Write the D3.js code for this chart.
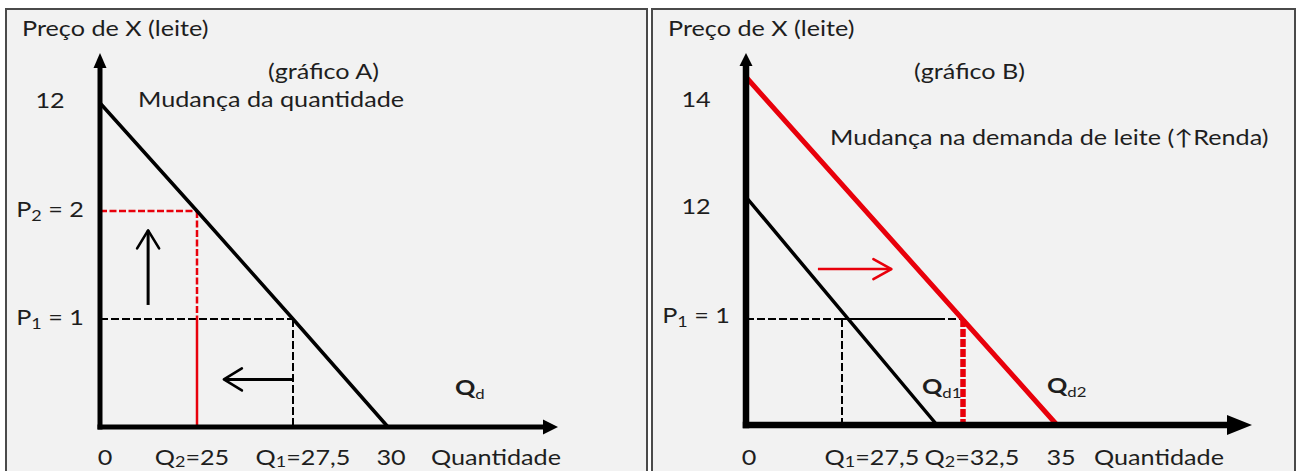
<!DOCTYPE html>
<html>
<head>
<meta charset="utf-8">
<script src="https://cdn.jsdelivr.net/npm/d3@7"></script>
<style>
  body { margin: 0; background: #fff; }
  text { font-family: Lato, "Open Sans", sans-serif; }
</style>
</head>
<body>
<svg id="chart" width="1297" height="471"></svg>
<script>
// the source picture is stretched sideways, so text gets the same squeeze
const SX = 1.2
const FONT = 21
const RED = "#e8000b"
const INK = "#1e1e1e"

// gráfico A - mudança da quantidade
const qtyTicksA = [0, 25, 27.5, 30]
const qtyLabelsA = ["0", "Q_{2}=25", "Q_{1}=27,5", "30"]
const priceTicksA = [12, 2, 1]
const priceLabelsA = ["12", "P_{2} = 2", "P_{1} = 1"]
const demandA = [[0, 12], [25, 2], [27.5, 1], [30, 0]]
const arrowUpA = [[12.4, 1.13], [12.4, 1.82]]
const arrowLeftA = [[27.5, 0.44], [25.7, 0.44]]

// gráfico B - mudança na demanda
const qtyTicksB = [0, 27.5, 32.5, 35]
const qtyLabelsB = ["0", "Q_{1}=27,5", "Q_{2}=32,5", "35"]
const priceTicksB = [14, 12, 1]
const priceLabelsB = ["14", "12", "P_{1} = 1"]
const demandB1 = [[0, 12], [30, 0]]
const demandB2 = [[0, 14], [35, 0]]
const arrowRightB = [[20.6, 5.5], [28.8, 5.5]]

const svg = d3.select("#chart")
const defs = svg.append("defs")

function marker(id, len, wid, color, open) {
  const m = defs.append("marker")
    .attr("id", id)
    .attr("markerUnits", "userSpaceOnUse")
    .attr("viewBox", `0 0 ${len} ${wid}`)
    .attr("markerWidth", len)
    .attr("markerHeight", wid)
    .attr("refX", open ? len : 1)
    .attr("refY", wid / 2)
    .attr("orient", "auto")
    .style("overflow", "visible")
  const p = m.append("path").attr("d", `M0,0 L${len},${wid / 2} L0,${wid}` + (open ? "" : "Z"))
  if (open) p.attr("fill", "none").attr("stroke", color).attr("stroke-width", 2.6).attr("stroke-linecap", "round").attr("stroke-linejoin", "round")
  else p.attr("fill", color)
}
marker("headA", 15, 15, "#000", false)
marker("headAy", 15, 13, "#000", false)
marker("headB", 25, 20, "#000", false)
marker("headBy", 13, 13, "#000", false)
marker("chevK", 18, 22, "#000", true)
marker("chevR", 18, 20, RED, true)

// text with _{sub} parts, squeezed like the original
function txt(g, str, x, y, o = {}) {
  const size = o.size || FONT
  const t = g.append("text")
    .attr("transform", `translate(${x},${y}) scale(${SX},1)`)
    .attr("text-anchor", o.anchor || "start")
    .style("font-size", size + "px")
    .style("font-weight", o.weight || "normal")
    .style("fill", o.color || INK)
  let shift = 0
  const drop = o.drop == null ? 0.2 : o.drop
  str.split(/_\{([^}]*)\}/).forEach((part, i) => {
    if (!part) return
    const sub = i % 2 === 1
    const want = sub ? size * drop : 0
    t.append("tspan")
      .attr("dy", want - shift)
      .style("font-size", sub ? Math.round(size * (o.subScale || 0.72)) + "px" : null)
      .style("font-weight", sub ? "normal" : null)
      .text(part)
    shift = want
  })
  return t
}

function panel(cfg) {
  const g = svg.append("g")
  const { x, y } = cfg

  g.append("rect")
    .attr("x", cfg.left).attr("y", 9)
    .attr("width", cfg.right - cfg.left).attr("height", 480)
    .attr("fill", "#f2f2f2").attr("stroke", "#4a4a4a").attr("stroke-width", 2)

  const ox = x(0), oy = y(0)

  // guides
  cfg.guides.forEach(d => {
    g.append("line")
      .attr("x1", x(d.q1)).attr("y1", y(d.p1))
      .attr("x2", x(d.q2)).attr("y2", y(d.p2))
      .attr("stroke", d.color || "#000")
      .attr("stroke-width", d.w || 2)
      .attr("stroke-dasharray", d.dash ? d.dash : null)
  })

  const line = d3.line().x(d => x(d[0])).y(d => y(d[1]))
  cfg.curves.forEach(c => {
    g.append("path").datum(c.data)
      .attr("d", line)
      .attr("fill", "none")
      .attr("stroke", c.color)
      .attr("stroke-width", c.w)
      .attr("stroke-linecap", "round")
  })

  cfg.arrows.forEach(a => {
    g.append("path").datum(a.data)
      .attr("d", line)
      .attr("fill", "none")
      .attr("stroke", a.color)
      .attr("stroke-width", a.w)
      .attr("marker-end", `url(#${a.head})`)
  })

  // axes with arrow heads
  g.append("line")
    .attr("x1", ox).attr("y1", oy + cfg.axisW / 2)
    .attr("x2", ox).attr("y2", cfg.top + cfg.headY - 1)
    .attr("stroke", "#000").attr("stroke-width", cfg.axisW)
    .attr("marker-end", `url(#${cfg.markY})`)
  g.append("line")
    .attr("x1", ox - cfg.axisW / 2).attr("y1", oy)
    .attr("x2", cfg.axisEnd - cfg.headX + 1).attr("y2", oy)
    .attr("stroke", "#000").attr("stroke-width", cfg.axisW)
    .attr("marker-end", `url(#${cfg.markX})`)

  // tick labels
  cfg.priceTicks.forEach((v, i) => {
    txt(g, cfg.priceLabels[i], ox - 50, y(v) + 6 + (cfg.nudgeY[v] || 0), { anchor: "middle" })
  })
  cfg.qtyTicks.forEach((v, i) => {
    txt(g, cfg.qtyLabels[i], x(v) + (cfg.nudgeX[v] || 0), 465, { anchor: "middle", drop: 0.1 })
  })
  txt(g, "Quantidade", cfg.qtyTitleX, 465)

  txt(g, "Preço de X (leite)", cfg.left + 16, 36)
  txt(g, cfg.title, ox + 168, 79)
  txt(g, cfg.subtitle[0], cfg.subtitle[1], cfg.subtitle[2])

  cfg.curveLabels.forEach(l => txt(g, l[0], l[1], l[2], { weight: "bold", subScale: 0.66 }))
}

// panel A
const xA = d3.scaleLinear().domain(qtyTicksA).range([100, 197, 293, 388])
const yA = d3.scaleLinear().domain([0, 1, 2, 12]).range([427, 319, 211, 103])
panel({
  left: 6, right: 647, top: 53, axisEnd: 558, axisW: 5,
  headX: 15, headY: 15, markX: "headA", markY: "headAy",
  x: xA, y: yA,
  qtyTicks: qtyTicksA, qtyLabels: qtyLabelsA,
  priceTicks: priceTicksA, priceLabels: priceLabelsA,
  nudgeX: { 0: 5, 25: -5, 27.5: 10, 30: 3 }, nudgeY: { 12: -1 },
  qtyTitleX: 431,
  title: "(gráfico A)",
  subtitle: ["Mudança da quantidade", 138, 107],
  guides: [
    { q1: 0, p1: 1, q2: 27.5, p2: 1, dash: "8,3" },
    { q1: 27.5, p1: 1, q2: 27.5, p2: 0, dash: "8,3" },
    { q1: 0, p1: 2, q2: 25, p2: 2, dash: "7,2.5", color: RED, w: 2.5 },
    { q1: 25, p1: 2, q2: 25, p2: 1, dash: "7,2.5", color: RED, w: 2.5 },
    { q1: 25, p1: 1, q2: 25, p2: 0, color: RED, w: 2.5 }
  ],
  curves: [{ data: demandA, color: "#000", w: 3.5 }],
  arrows: [
    { data: arrowUpA, color: "#000", w: 3, head: "chevK" },
    { data: arrowLeftA, color: "#000", w: 3, head: "chevK" }
  ],
  curveLabels: [["Q_{d}", 455, 395]]
})

// panel B
const xB = d3.scaleLinear().domain([0, 27.5, 30, 32.5, 35]).range([746, 842, 937, 963, 1057])
const yB = d3.scaleLinear().domain([0, 1, 12, 14]).range([425, 319, 197, 77])
panel({
  left: 652, right: 1295, top: 53, axisEnd: 1252, axisW: 6.5,
  headX: 25, headY: 13, markX: "headB", markY: "headBy",
  x: xB, y: yB,
  qtyTicks: qtyTicksB, qtyLabels: qtyLabelsB,
  priceTicks: priceTicksB, priceLabels: priceLabelsB,
  nudgeX: { 0: 3, 27.5: 30, 32.5: 9, 35: 4 }, nudgeY: { 14: 24, 12: 11, 1: -2 },
  qtyTitleX: 1094,
  title: "(gráfico B)",
  subtitle: ["Mudança na demanda de leite (↑Renda)", 830, 145],
  guides: [
    { q1: 0, p1: 1, q2: 27.5, p2: 1, dash: "8,3" },
    { q1: 27.5, p1: 1, q2: 30, p2: 1 },
    { q1: 30, p1: 1, q2: 32.5, p2: 1, dash: "8,3" },
    { q1: 27.5, p1: 1, q2: 27.5, p2: 0, dash: "8,3" },
    { q1: 32.5, p1: 1, q2: 32.5, p2: 0, dash: "8,2", color: RED, w: 5.5 }
  ],
  curves: [
    { data: demandB1, color: "#000", w: 3.5 },
    { data: demandB2, color: RED, w: 5 }
  ],
  arrows: [{ data: arrowRightB, color: RED, w: 2.5, head: "chevR" }],
  curveLabels: [["Q_{d1}", 922, 394], ["Q_{d2}", 1047, 393]]
})
</script>
</body>
</html>
